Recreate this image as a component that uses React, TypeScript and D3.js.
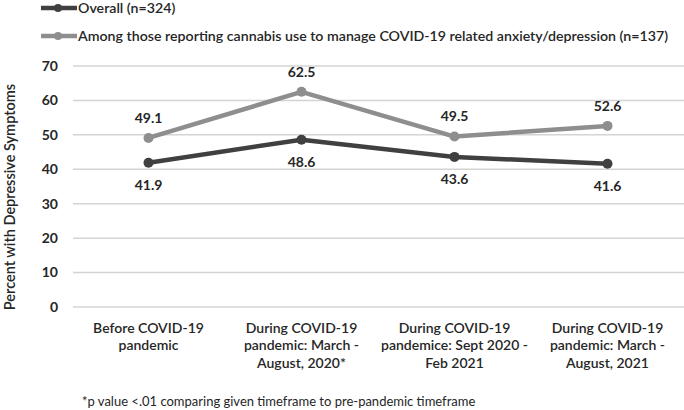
import * as d3 from 'd3'

// ── data ──
const categories = [
  ['Before COVID-19', 'pandemic'],
  ['During COVID-19', 'pandemic:  March -', 'August, 2020*'],
  ['During COVID-19', 'pandemice: Sept 2020 -', 'Feb 2021'],
  ['During COVID-19', 'pandemic:  March -', 'August, 2021'],
]
const overall = [41.9, 48.6, 43.6, 41.6]
const cannabis = [49.1, 62.5, 49.5, 52.6]
const yTicks = [0, 10, 20, 30, 40, 50, 60, 70]

const W = 684, H = 410
const FONT = 'Lato, "Open Sans", sans-serif'
const DARK = '#404040', LIGHT = '#8e8e8e', TXT = '#262626'

const series = [
  { name: 'Overall (n=324)', values: overall, color: DARK, above: false },
  { name: 'Among those reporting cannabis use to manage COVID-19 related anxiety/depression (n=137)', values: cannabis, color: LIGHT, above: true },
]

export default function App() {
  const x = d3.scaleBand<number>().domain(d3.range(categories.length)).range([72, 684])
  const y = d3.scaleLinear().domain([0, 70]).range([307, 66])
  const cx = (i: number) => (x(i) ?? 0) + x.bandwidth() / 2
  const line = d3.line<number>().x((_, i) => cx(i)).y(v => y(v))

  return (
    <div style={{ position: 'fixed', left: 0, top: 0, width: W, height: H, background: '#fff' }}>
      <svg width={W} height={H} style={{ display: 'block', fontFamily: FONT }}>
        {/* grid + y ticks */}
        {yTicks.map(t => (
          <g key={t}>
            <line x1={73} x2={684} y1={y(t)} y2={y(t)} stroke="#d4d4d4" strokeWidth={1.5} />
            <text x={58} y={y(t)} dy="0.35em" textAnchor="end" fontSize={14} fontWeight={700} fill={TXT}>{t}</text>
          </g>
        ))}
        <text transform={`translate(10,197) rotate(-90)`} textAnchor="middle" dy="0.35em" fontSize={14.5} fontWeight={600} fill={TXT}>
          Percent with Depressive Symptoms
        </text>

        {/* category labels */}
        {categories.map((lines, i) => (
          <text key={i} x={cx(i)} y={328} textAnchor="middle" fontSize={14} fill={TXT} fontWeight={600}>
            {lines.map((l, j) => <tspan key={j} x={cx(i)} dy={j === 0 ? '0.35em' : 17.5}>{l}</tspan>)}
          </text>
        ))}

        {/* lines */}
        {series.map(s => (
          <g key={s.name}>
            <path d={line(s.values) ?? ''} fill="none" stroke={s.color} strokeWidth={4.5} strokeLinejoin="round" />
            {s.values.map((v, i) => (
              <g key={i}>
                <circle cx={cx(i)} cy={y(v)} r={5} fill={s.color} />
                <text x={cx(i)} y={y(v) + (s.above ? -20 : 22)} dy="0.35em" textAnchor="middle" fontSize={14} fontWeight={700} fill={TXT}>
                  {v.toFixed(1)}
                </text>
              </g>
            ))}
          </g>
        ))}

        {/* legend */}
        {series.map((s, i) => (
          <g key={s.name} transform={`translate(0,${8 + i * 28})`}>
            <line x1={41} x2={77} y1={0} y2={0} stroke={s.color} strokeWidth={4.5} />
            <circle cx={58} cy={0} r={4} fill={s.color} />
            <text x={78} y={0} dy="0.35em" fontSize={14.2} fontWeight={600} fill={TXT}>{s.name}</text>
          </g>
        ))}

        <text x={82} y={401} dy="0.35em" fontSize={13} fill={TXT}>
          *p value &lt;.01 comparing given timeframe to pre-pandemic timeframe
        </text>
      </svg>
    </div>
  )
}
